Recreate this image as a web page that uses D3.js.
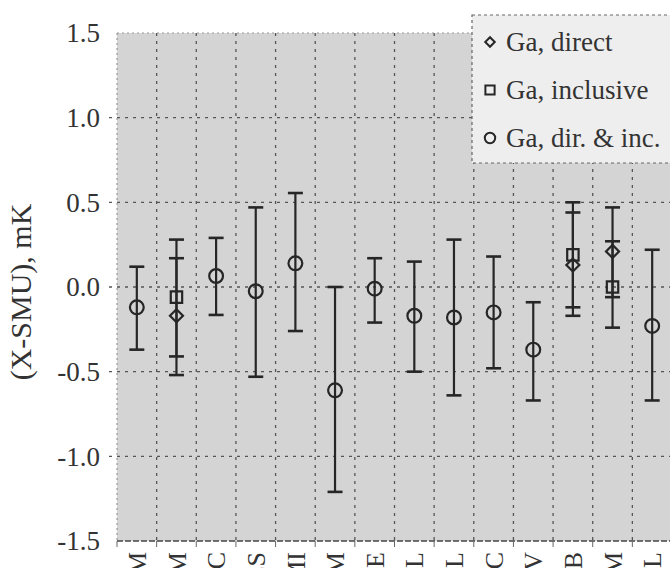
<!DOCTYPE html>
<html><head><meta charset="utf-8">
<script src="https://cdn.jsdelivr.net/npm/d3@7"></script>
<style>body{margin:0;background:#fff}svg{display:block}</style>
</head><body>
<svg id="chart" width="670" height="568"></svg>
<script>
// ---------- data ----------
const categories = ["GUM","INM","NMC","MIKES","CMI","INRIM","LNE","NPL","VSL","NRC","BEV","PTB","CEM","NML"];

// Ga, dir. & inc. (circles)
const combCats  = ["GUM","NMC","MIKES","CMI","INRIM","LNE","NPL","VSL","NRC","BEV","NML"];
const combVals  = [-0.12, 0.065, -0.025, 0.14, -0.61, -0.01, -0.17, -0.18, -0.15, -0.37, -0.23];
const combLow   = [-0.37, -0.165, -0.53, -0.26, -1.21, -0.21, -0.50, -0.64, -0.48, -0.67, -0.67];
const combHigh  = [0.12, 0.29, 0.47, 0.555, 0.0, 0.17, 0.15, 0.28, 0.18, -0.09, 0.22];

// Ga, direct (diamonds)
const directCats = ["INM","PTB","CEM"];
const directVals = [-0.17, 0.13, 0.21];
const directLow  = [-0.52, -0.17, -0.06];
const directHigh = [0.17, 0.44, 0.47];

// Ga, inclusive (squares)
const inclCats = ["INM","PTB","CEM"];
const inclVals = [-0.06, 0.19, 0.0];
const inclLow  = [-0.41, -0.12, -0.24];
const inclHigh = [0.28, 0.50, 0.27];

const yTicks = [1.5, 1.0, 0.5, 0.0, -0.5, -1.0, -1.5];
const gridVals = [1.0, 0.5, 0.0, -0.5, -1.0];
const legendLabels = ["Ga, direct", "Ga, inclusive", "Ga, dir. & inc."];
const yTitle = "(X-SMU), mK";

// ---------- layout ----------
const svg = d3.select("#chart");
const L = 117, R = 672, T = 33, B = 541;
const x = d3.scaleBand().domain(categories).range([L, R]).padding(0);
const y = d3.scaleLinear().domain([-1.5, 1.5]).range([B, T]);
const ink = "#262626";
const serif = "'Liberation Serif','Times New Roman',serif";

// plot background
svg.append("rect").attr("x", L).attr("y", T).attr("width", R - L).attr("height", B - T)
  .attr("fill", "#d4d4d4");

// vertical grid at band boundaries
const bounds = categories.slice(1).map(c => x(c));
svg.append("g").selectAll("line").data(bounds).join("line")
  .attr("x1", d => d).attr("x2", d => d).attr("y1", T).attr("y2", B)
  .attr("stroke", "#555").attr("stroke-width", 1.3).attr("stroke-dasharray", "3,5");

// horizontal grid
svg.append("g").selectAll("line").data(gridVals).join("line")
  .attr("x1", L - 8).attr("x2", R).attr("y1", d => y(d)).attr("y2", d => y(d))
  .attr("stroke", "#555").attr("stroke-width", 1.3).attr("stroke-dasharray", "3,5");

// top edge (dotted, light)
svg.append("line").attr("x1", L).attr("x2", R).attr("y1", y(1.5)).attr("y2", y(1.5))
  .attr("stroke", "#999").attr("stroke-width", 1).attr("stroke-dasharray", "2,3");
// left axis (dotted)
svg.append("line").attr("x1", L).attr("x2", L).attr("y1", T).attr("y2", B)
  .attr("stroke", "#888").attr("stroke-width", 1).attr("stroke-dasharray", "2,3");
// bottom axis
svg.append("line").attr("x1", L).attr("x2", R).attr("y1", y(-1.5)).attr("y2", y(-1.5))
  .attr("stroke", "#444").attr("stroke-width", 1.6).attr("stroke-dasharray", "6,2");
svg.append("g").selectAll("line").data([L, ...bounds]).join("line")
  .attr("x1", d => d).attr("x2", d => d).attr("y1", B).attr("y2", B + 6)
  .attr("stroke", "#666").attr("stroke-width", 1);

// y tick labels (plain hyphen minus as in the reference)
svg.append("g").selectAll("text").data(yTicks).join("text")
  .attr("x", 100).attr("y", d => y(d)).attr("dy", "0.35em")
  .attr("text-anchor", "end").attr("font-family", serif).attr("font-size", 27)
  .attr("fill", "#333").text(d => d.toFixed(1));

// y title
svg.append("text").attr("transform", `translate(31,${(T + B) / 2 + 5}) rotate(-90)`)
  .attr("text-anchor", "middle").attr("font-family", serif).attr("font-size", 30)
  .attr("fill", "#333").text(yTitle);

// x labels (rotated, running off the bottom)
svg.append("g").selectAll("text").data(categories).join("text")
  .attr("transform", d => `translate(${x(d) + x.bandwidth() / 2},552) rotate(-90)`)
  .attr("dy", "0.35em").attr("text-anchor", "end")
  .attr("font-family", serif).attr("font-size", 26).attr("fill", "#333").text(d => d);

// ---------- error bars & markers ----------
const cx = c => x(c) + x.bandwidth() / 2;
function errBars(cats, lo, hi) {
  const g = svg.append("g").attr("stroke", ink).attr("stroke-width", 2.2).attr("fill", "none");
  cats.forEach((c, i) => {
    g.append("line").attr("x1", cx(c)).attr("x2", cx(c)).attr("y1", y(lo[i])).attr("y2", y(hi[i]));
    [lo[i], hi[i]].forEach(v => g.append("line").attr("x1", cx(c) - 7.5).attr("x2", cx(c) + 7.5)
      .attr("y1", y(v)).attr("y2", y(v)).attr("stroke-width", 2.6));
  });
}
errBars(combCats, combLow, combHigh);
errBars(directCats, directLow, directHigh);
errBars(inclCats, inclLow, inclHigh);

const symCircle = d3.symbol().type(d3.symbolCircle).size(150);
const symSquare = d3.symbol().type(d3.symbolSquare).size(130);
const symDiamond = d3.symbol().type(d3.symbolSquare).size(85);

function markers(cats, vals, sym, rot) {
  svg.append("g").selectAll("path").data(cats).join("path")
    .attr("d", sym).attr("transform", (c, i) => `translate(${cx(c)},${y(vals[i])}) rotate(${rot})`)
    .attr("fill", "none").attr("stroke", ink).attr("stroke-width", 2.2);
}
markers(combCats, combVals, symCircle, 0);
markers(inclCats, inclVals, symSquare, 0);
markers(directCats, directVals, symDiamond, 45);

// ---------- legend ----------
const lg = svg.append("g");
lg.append("rect").attr("x", 472).attr("y", 15).attr("width", 210).attr("height", 148)
  .attr("fill", "#eeeeee").attr("stroke", "#666").attr("stroke-width", 1.2).attr("stroke-dasharray", "3,3");
const legSyms = [d3.symbol().type(d3.symbolSquare).size(45),
                 d3.symbol().type(d3.symbolSquare).size(85),
                 d3.symbol().type(d3.symbolCircle).size(85)];
const legRot = [45, 0, 0];
legendLabels.forEach((t, i) => {
  const yy = 42 + i * 48;
  lg.append("path").attr("d", legSyms[i]).attr("transform", `translate(490,${yy}) rotate(${legRot[i]})`)
    .attr("fill", "none").attr("stroke", ink).attr("stroke-width", 2);
  lg.append("text").attr("x", 506).attr("y", yy).attr("dy", "0.35em")
    .attr("font-family", serif).attr("font-size", 27).attr("fill", "#333").text(t);
});
</script>
</body></html>
